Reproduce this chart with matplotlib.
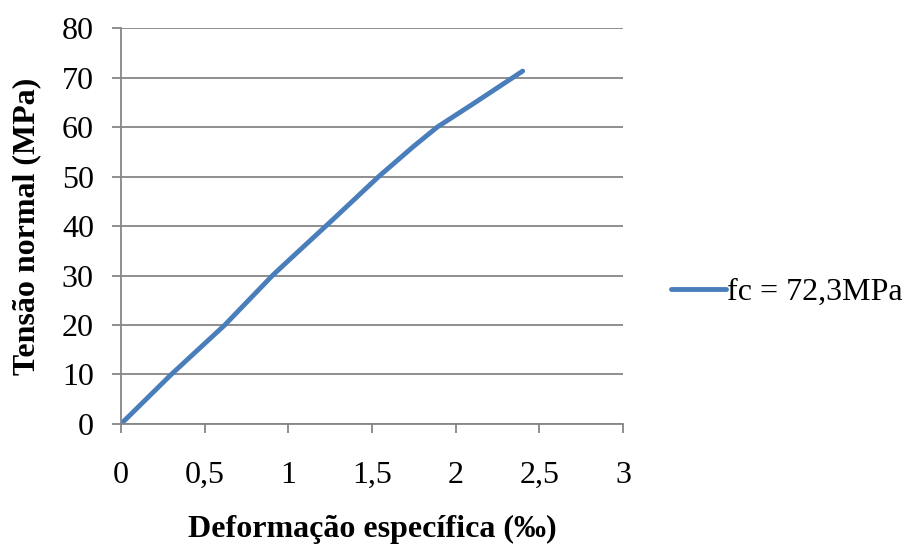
import matplotlib
matplotlib.use("Agg")
import matplotlib.pyplot as plt

deformacao = [0.0, 0.30, 0.62, 0.905, 1.0, 1.25, 1.54, 1.745, 1.89, 2.1, 2.40]
tensao = [0.0, 10.0, 20.0, 30.0, 33.0, 40.8, 50.0, 56.0, 60.0, 64.6, 71.3]
serie = "fc = 72,3MPa"
xticks = [0, 0.5, 1, 1.5, 2, 2.5, 3]
xticklabels = ["0", "0,5", "1", "1,5", "2", "2,5", "3"]
yticks = [0, 10, 20, 30, 40, 50, 60, 70, 80]

plt.rcParams['font.family'] = ['Liberation Serif', 'DejaVu Serif']
fig = plt.figure(figsize=(9.07, 5.44), dpi=100)
ax = fig.add_axes([0.1334, 0.2206, 0.5536, 0.7279])
grid_c = "#868686"
line, = ax.plot(deformacao, tensao, color="#4A7EBB", lw=3.5, solid_capstyle="round",
                solid_joinstyle="round", label=serie)
ax.set_xlim(0, 3)
ax.set_ylim(0, 80)
ax.set_xticks(xticks)
ax.set_xticklabels(xticklabels)
ax.set_yticks(yticks)
ax.yaxis.grid(True, color=grid_c, lw=1.3)
ax.set_axisbelow(True)
for s in ["top", "right"]:
    ax.spines[s].set_visible(False)
for s in ["left", "bottom"]:
    ax.spines[s].set_color(grid_c)
    ax.spines[s].set_linewidth(1.3)
ax.tick_params(axis="both", colors=grid_c, length=6.5, width=1.3, labelsize=23, labelcolor="black")
ax.tick_params(axis="x", pad=20)
ax.tick_params(axis="y", pad=13)
ax.set_xlabel("Deformação específica (‰)", fontsize=23, fontweight="bold", labelpad=18)
ax.set_ylabel("Tensão normal (MPa)", fontsize=23, fontweight="bold", labelpad=15)
leg = fig.legend(handles=[line], loc="center left", bbox_to_anchor=(0.726, 0.463),
                 frameon=False, fontsize=23, handlelength=1.7, handletextpad=0.05, borderaxespad=0)
fig.savefig("out.png", dpi=100)
